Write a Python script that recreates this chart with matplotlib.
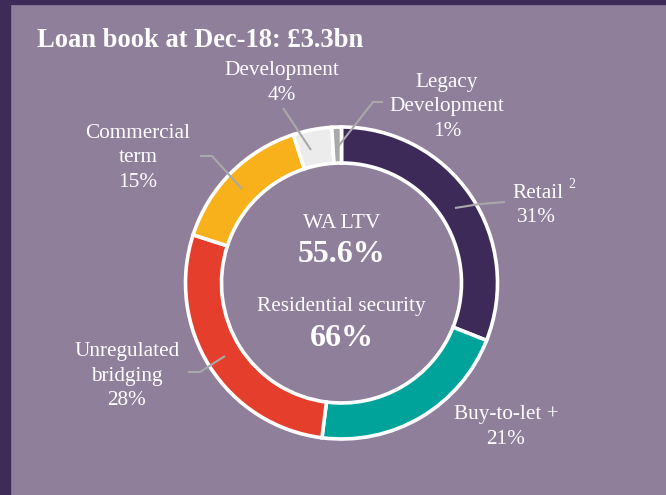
import matplotlib
matplotlib.use("Agg")
import matplotlib.pyplot as plt
from matplotlib.patches import Rectangle

plt.rcParams['font.family'] = ['Liberation Serif', 'DejaVu Serif']

# ---- data ----
categories = ["Retail", "Buy-to-let +", "Unregulated bridging", "Commercial term",
              "Development", "Legacy Development"]
shares = [31, 21, 28, 15, 4, 1]
colors = ["#3e2a58", "#00a39a", "#e53e2c", "#f8b11a", "#ececec", "#a9a9a9"]
title = "Loan book at Dec-18: £3.3bn"
center_labels = ["WA LTV", "55.6%", "Residential security", "66%"]

W, H = 666, 495
BG = "#8f7f9b"
DARK = "#3e2b58"
LINE = "#a9a9a9"

fig = plt.figure(figsize=(W / 100, H / 100), dpi=100, facecolor=BG)
ax = fig.add_axes([0, 0, 1, 1])
ax.set_facecolor(BG)

def Y(y):
    return H - y

cx, cy, R, ring = 341.5, 283, 156, 36
ax.pie(shares, colors=colors, startangle=90, counterclock=False,
       center=(cx, Y(cy)), radius=R,
       wedgeprops=dict(width=ring, edgecolor="white", linewidth=2.6))
ax.set_xlim(0, W)
ax.set_ylim(0, H)
ax.set_aspect("equal")
ax.axis("off")

# borders
fig.patches.append(Rectangle((0, 0), 10 / W, 1, transform=fig.transFigure,
                             color=DARK, zorder=0))
fig.patches.append(Rectangle((0, 1 - 4 / H), 1, 4 / H, transform=fig.transFigure,
                             color=DARK, zorder=0))

# title
ax.text(37, Y(47), title, color="white", fontsize=19.1, fontweight="bold",
        ha="left", va="baseline")

# centre texts
ax.text(cx, Y(224), center_labels[0], color="white", fontsize=15.5, ha="center", va="center")
ax.text(cx, Y(254), center_labels[1], color="white", fontsize=23, fontweight="bold",
        ha="center", va="center")
ax.text(cx, Y(307), center_labels[2], color="white", fontsize=15.3, ha="center", va="center")
ax.text(cx, Y(339), center_labels[3], color="white", fontsize=23, fontweight="bold",
        ha="center", va="center")

# outer labels
lab_fs = 15.3
def lab(x, y, s):
    ax.text(x, Y(y), s, color="white", fontsize=lab_fs, ha="center", va="center",
            multialignment="center", linespacing=1.38)

lab(282, 83, "Development\n4%")
lab(447, 107, "Legacy\nDevelopment\n1%")
ax.text(537.5, Y(193), "Retail", color="white", fontsize=lab_fs, ha="center", va="center")
ax.text(571.5, Y(184), "2", color="white", fontsize=10, ha="center", va="center")
ax.text(536, Y(217), "31%", color="white", fontsize=lab_fs, ha="center", va="center")
lab(138, 158, "Commercial\nterm\n15%")
lab(127, 376, "Unregulated\nbridging\n28%")
lab(506, 427, "Buy-to-let +\n21%")

# leader lines
def leader(xs, ys):
    ax.plot(xs, [Y(v) for v in ys], color=LINE, lw=1.5, solid_capstyle="butt")

leader([283, 311], [108, 150])
leader([383, 373, 337], [102, 102, 148])
leader([455, 480, 505], [208, 204, 202])
leader([200, 212, 242], [156, 156, 189])
leader([188, 200, 225], [372, 372, 356])

fig.savefig("out.png", dpi=100, facecolor=BG)
